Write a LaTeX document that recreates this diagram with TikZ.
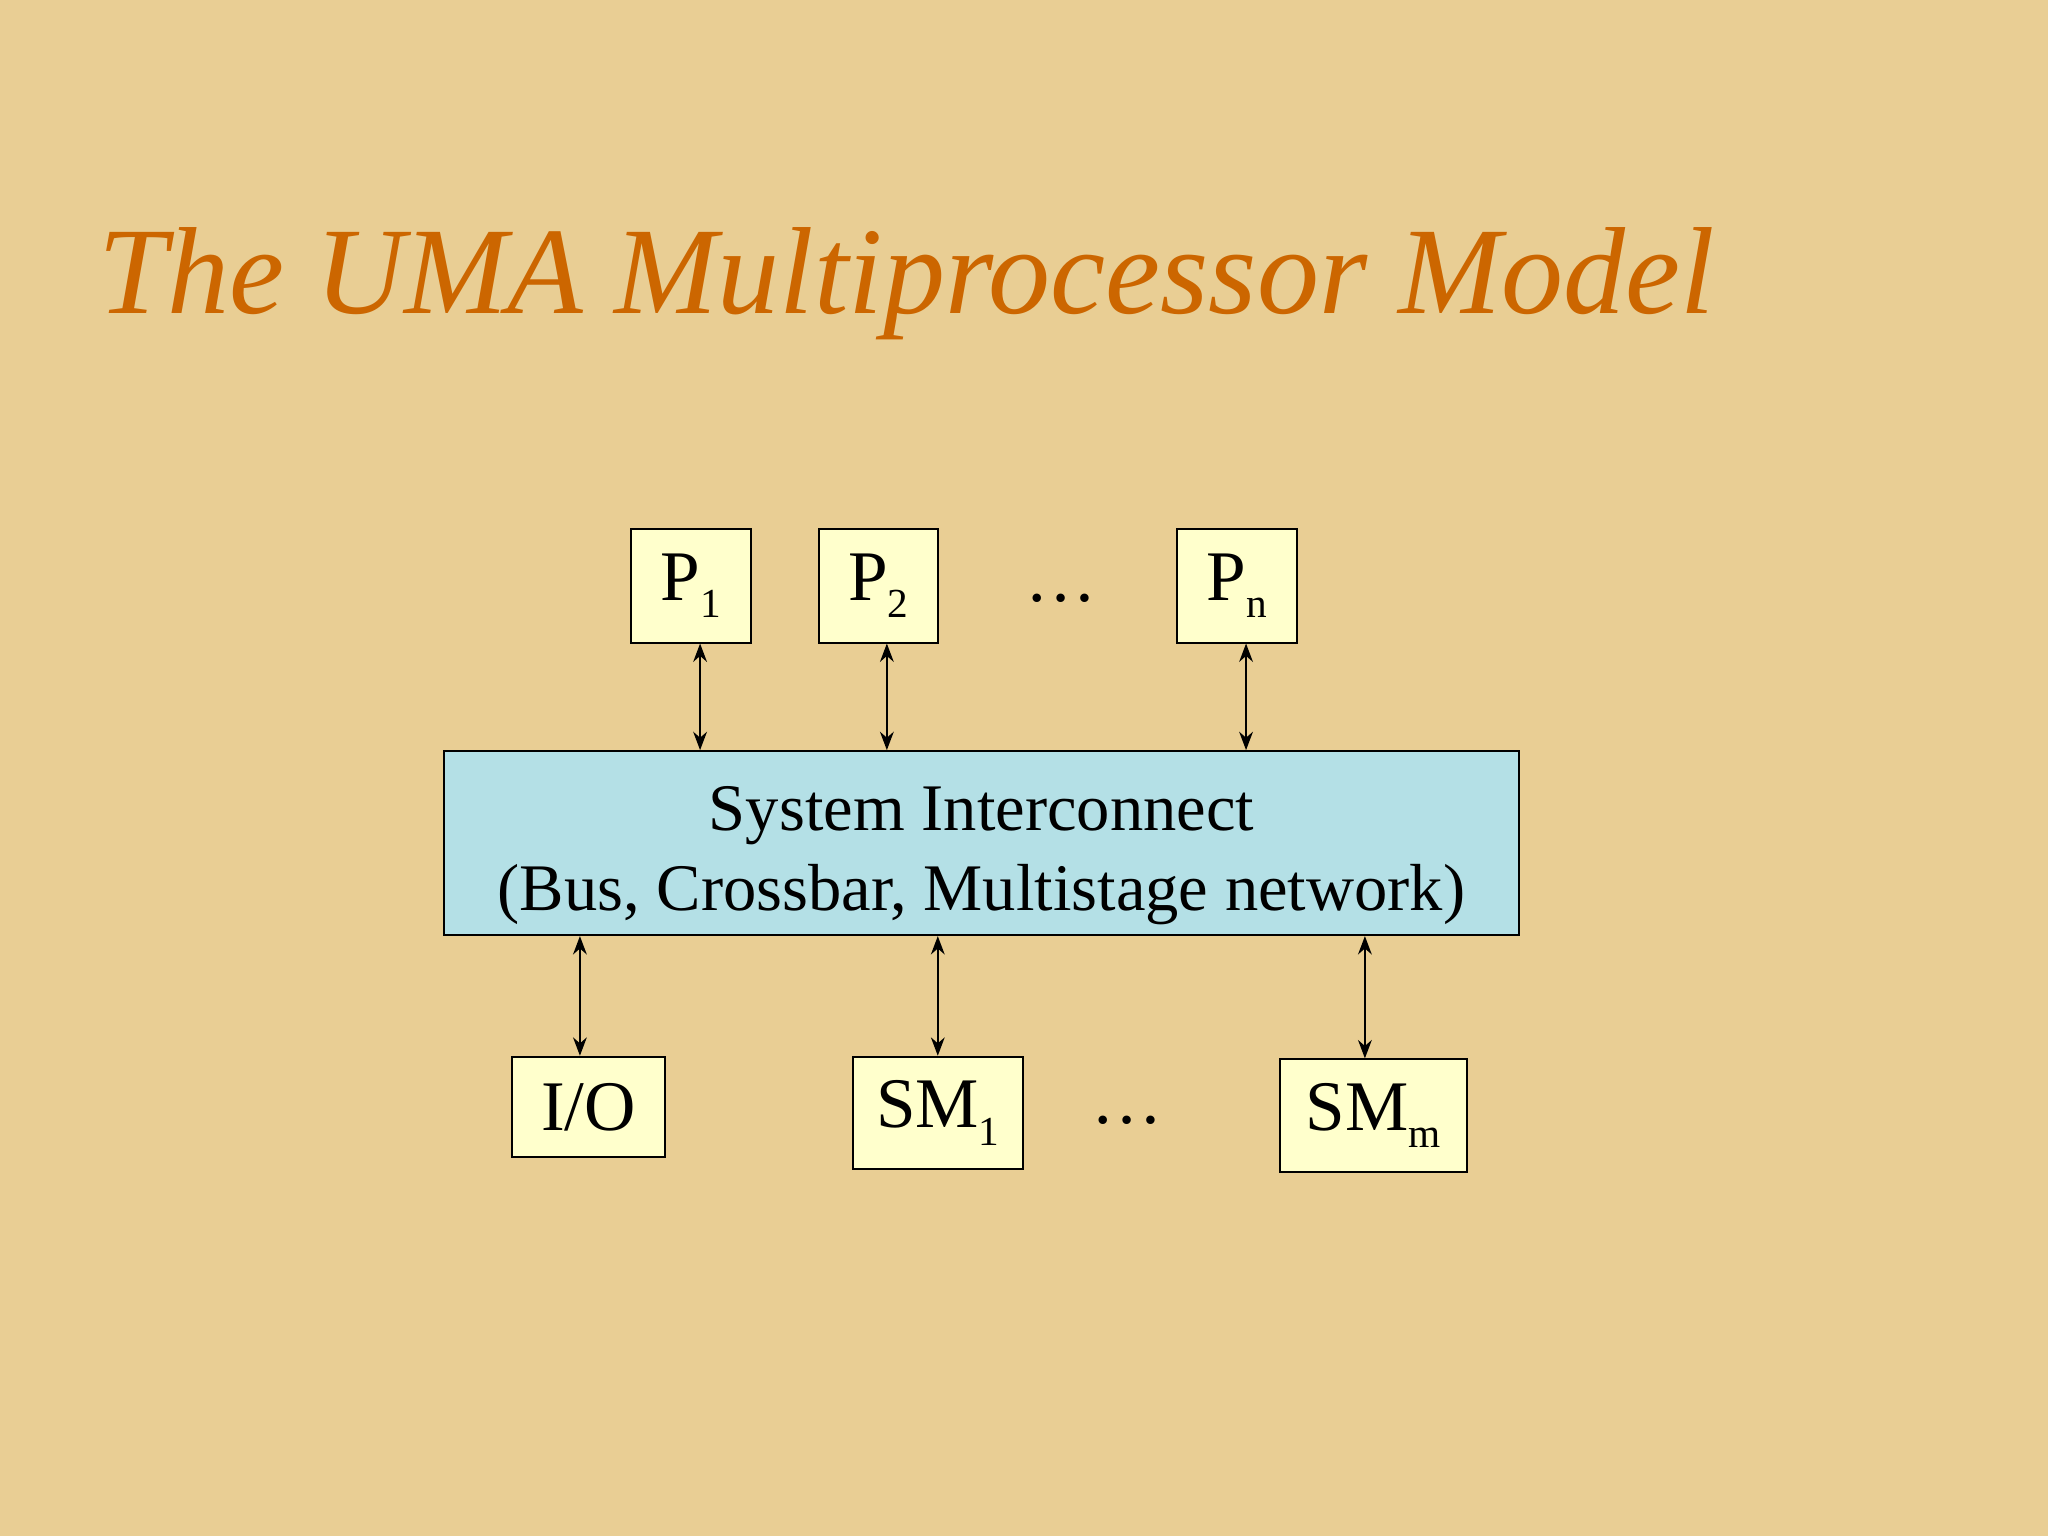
\documentclass[tikz,border=0pt]{standalone}
\usepackage{fontspec}
\setmainfont{Liberation Serif}
\usetikzlibrary{arrows.meta}
\definecolor{bg}{RGB}{233,206,148}
\definecolor{ttl}{RGB}{204,102,0}
\definecolor{yel}{RGB}{255,255,204}
\definecolor{blu}{RGB}{180,224,230}
\newcommand{\sbs}[1]{\raisebox{-0.25em}{\fontsize{18}{18}\selectfont #1}}
\begin{document}
\begin{tikzpicture}[x=0.02cm,y=-0.02cm,
  box/.style={draw=black,fill=yel,line width=0.8pt,inner sep=0pt,font=\fontsize{31}{34}\selectfont},
  arr/.style={{Stealth[length=8pt,width=6pt]}-{Stealth[length=8pt,width=6pt]},line width=0.8pt},
  dots/.style={font=\fontsize{31}{34}\selectfont}]
\fill[bg] (0,0) rectangle (1568,1176);
\useasboundingbox (0,0) rectangle (1568,1176);
\node[anchor=base west,text=ttl,font=\fontsize{54}{60}\selectfont\itshape,inner sep=0pt] (t) at (75,240) {The UMA Multiprocessor Model};
\node[box,minimum width=92*0.02cm,minimum height=87*0.02cm] (p1) at (529,448.5) {P\sbs{1}};
\node[box,minimum width=91*0.02cm,minimum height=87*0.02cm] (p2) at (672.5,448.5) {P\sbs{2}};
\node[box,minimum width=92*0.02cm,minimum height=87*0.02cm] (pn) at (947,448.5) {P\sbs{n}};
\node[dots] (d1) at (812,458) {\dots};
\node[draw=black,fill=blu,line width=0.8pt,minimum width=823*0.02cm,minimum height=141*0.02cm] (si) at (751.5,645.5) {};
\node[align=center,font=\fontsize{29}{35}\selectfont] (sit) at (751.5,655) {System Interconnect\\(Bus, Crossbar, Multistage network)};
\node[box,minimum width=117*0.02cm,minimum height=77*0.02cm] (io) at (450.5,847.5) {I/O};
\node[box,minimum width=130*0.02cm,minimum height=86*0.02cm] (sm1) at (718,852) {SM\sbs{1}};
\node[box,minimum width=143*0.02cm,minimum height=86*0.02cm] (smm) at (1051.5,854) {SM\sbs{m}};
\node[dots] (d2) at (863,858) {\dots};
\draw[arr] (si.north -| 536,0) -- (p1.south -| 536,0);
\draw[arr] (si.north -| 679,0) -- (p2.south -| 679,0);
\draw[arr] (si.north -| 954,0) -- (pn.south -| 954,0);
\draw[arr] (si.south -| 444,0) -- (io.north -| 444,0);
\draw[arr] (si.south -| 718,0) -- (sm1.north);
\draw[arr] (si.south -| 1045,0) -- (smm.north -| 1045,0);
\end{tikzpicture}
\end{document}
